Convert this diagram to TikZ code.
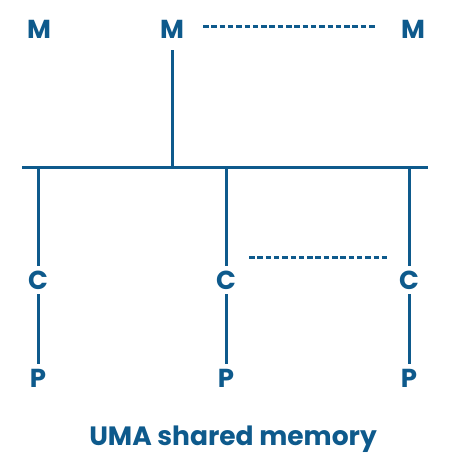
\documentclass[tikz,border=0pt]{standalone}
\usepackage{fontspec}
\setmainfont{Poppins}[UprightFont=* Bold]
\definecolor{umablue}{RGB}{14,90,140}
\begin{document}
\begin{tikzpicture}[x=1pt,y=-1pt,
  lbl/.style={font=\fontsize{26}{26}\selectfont, text=umablue, inner sep=0pt, outer sep=5pt, anchor=center},
  wire/.style={draw=umablue, line width=3pt},
  dots/.style={draw=umablue, line width=3pt, dash pattern=on 5.5pt off 2.8pt}]
\useasboundingbox (0,0) rectangle (450,468);
% memories
\node[lbl] (M1) at (39,29) {M};
\node[lbl] (M2) at (172,29) {M};
\node[lbl] (M3) at (413,29) {M};
% caches
\node[lbl] (C1) at (38,280) {C};
\node[lbl] (C2) at (226,280) {C};
\node[lbl] (C3) at (409,280) {C};
% processors
\node[lbl] (P1) at (38,378) {P};
\node[lbl] (P2) at (226,378) {P};
\node[lbl] (P3) at (409,378) {P};
% bus
\coordinate (busL) at (22,167);
\coordinate (busR) at (428,167);
\coordinate (b0) at (172,167);
\coordinate (b1) at (38,167);
\coordinate (b2) at (226,167);
\coordinate (b3) at (409,167);
\draw[wire] (busL) -- (busR);
\draw[wire] (b0) -- (172,50);
\draw[wire] (b1) -- (C1);
\draw[wire] (b2) -- (C2);
\draw[wire] (b3) -- (C3);
\draw[wire] (C1) -- (P1);
\draw[wire] (C2) -- (P2);
\draw[wire] (C3) -- (P3);
% dotted continuations
\coordinate (d1) at (203,27);
\coordinate (d2) at (377,27);
\draw[dots] (d1) -- (d2);
\coordinate (d3) at (249,257);
\coordinate (d4) at (389,257);
\draw[dots] (d3) -- (d4);
% caption
\node[font=\fontsize{26.5}{26.5}\selectfont, text=umablue, inner sep=0pt, anchor=base] (cap) at (233,445) {UMA shared memory};
\end{tikzpicture}
\end{document}
